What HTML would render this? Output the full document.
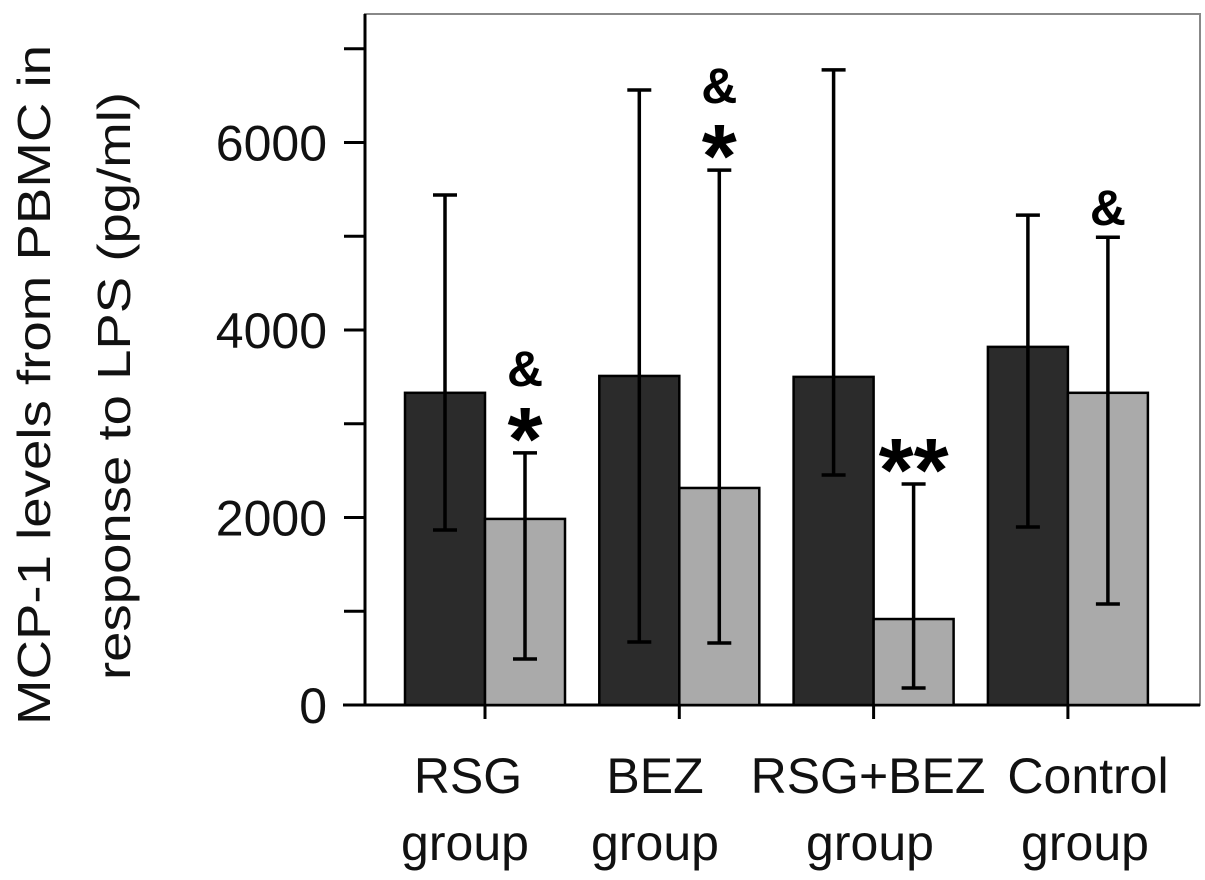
<!DOCTYPE html>
<html><head><meta charset="utf-8"><style>
html,body{margin:0;padding:0;background:#fff;}
svg{display:block;font-family:"Liberation Sans",Arial,sans-serif;}
</style></head><body>
<svg id="chart" width="1205" height="880" viewBox="0 0 1205 880">
<rect x="0" y="0" width="1205" height="880" fill="#fff"/>
<g id="plot"></g>
<text transform="translate(50,385) rotate(-90)" text-anchor="middle" font-size="46" textLength="680" lengthAdjust="spacingAndGlyphs" fill="#111">MCP-1 levels from PBMC in</text>
<text transform="translate(130,386) rotate(-90)" text-anchor="middle" font-size="46" textLength="588" lengthAdjust="spacingAndGlyphs" fill="#111">response to LPS (pg/ml)</text>
</svg>
<script>
const categories = ["RSG", "BEZ", "RSG+BEZ", "Control"];
const darkValues = [3330, 3510, 3500, 3820];
const lightValues = [1985, 2315, 917, 3330];
const darkErrHigh = [5440, 6560, 6775, 5225];
const darkErrLow = [1867, 672, 2453, 1899];
const lightErrHigh = [2690, 5705, 2357, 4990];
const lightErrLow = [491, 661, 181, 1077];
const yTicks = [0, 1000, 2000, 3000, 4000, 5000, 6000, 7000];
const yTickLabels = ["0", "", "2000", "", "4000", "", "6000", ""];
const annotations = [["&", "*"], ["&", "*"], ["**"], ["&"]];
const xLabelLine1 = ["RSG", "BEZ", "RSG+BEZ", "Control"];

const NS = "http://www.w3.org/2000/svg";
const g = document.getElementById("plot");
const x0 = 365, x1 = 1200, yBase = 705, pxPer = 93.75 / 1000;
const y = v => yBase - v * pxPer;
const groupCenter = i => 485 + i * 194.3;
const barW = 80;
function mk(tag, attrs) { const e = document.createElementNS(NS, tag); for (const k in attrs) e.setAttribute(k, attrs[k]); g.appendChild(e); return e; }

let e = mk("rect", {x: x0, y: 14, width: x1 - x0, height: yBase - 14, fill: "none", stroke: "#888", "stroke-width": 2});


e = mk("line", {x1: x0, y1: 14, x2: x0, y2: yBase, stroke: "#000", "stroke-width": 3});


e = mk("line", {x1: 343, y1: yBase, x2: x1, y2: yBase, stroke: "#000", "stroke-width": 3});



yTicks.forEach((t, i) => {
  const tk = mk("line", {x1: 344, y1: y(t), x2: x0, y2: y(t), stroke: "#000", "stroke-width": 3});
  
  
  if (yTickLabels[i]) {
    const tl = mk("text", {x: 327, y: y(t) + 18, "text-anchor": "end", "font-size": 50, fill: "#111"});
    tl.textContent = yTickLabels[i];
    
    
  }
});

categories.forEach((c, i) => {
  const cx = groupCenter(i);
  const xt = mk("line", {x1: cx, y1: yBase, x2: cx, y2: 719, stroke: "#000", "stroke-width": 3});
  
  
  const bd = mk("rect", {x: cx - barW, y: y(darkValues[i]), width: barW, height: yBase - y(darkValues[i]), fill: "#2b2b2b", stroke: "#000", "stroke-width": 2.5});
  
  
  const bl = mk("rect", {x: cx, y: y(lightValues[i]), width: barW, height: yBase - y(lightValues[i]), fill: "#aaaaaa", stroke: "#000", "stroke-width": 2.5});
  
  
  [[cx - barW / 2, darkErrHigh[i], darkErrLow[i], 'dark'], [cx + barW / 2, lightErrHigh[i], lightErrLow[i], 'light']].forEach(([ex, hi, lo, nm]) => {
    const l = mk("line", {x1: ex, y1: y(hi), x2: ex, y2: y(lo), stroke: "#000", "stroke-width": 3.5});
    
    
    [hi, lo].forEach(v => {
      const cp = mk("line", {x1: ex - 12, y1: y(v), x2: ex + 12, y2: y(v), stroke: "#000", "stroke-width": 3.5});
      
      
    });
  });
  const ann = annotations[i];
  const cap = y(lightErrHigh[i]);
  let centerY = cap - 30;
  for (let k = ann.length - 1; k >= 0; k--) {
    const s = ann[k];
    const isStar = s.indexOf("*") >= 0;
    const t = mk("text", {x: cx + barW / 2, y: isStar ? centerY + 47 : centerY + 18, "text-anchor": "middle", "font-size": isStar ? 90 : 50, "font-weight": "bold", fill: "#000"});
    t.textContent = s;
    
    
    centerY -= 55;
  }
  const lx = [468, 655, 868, 1088][i];
  const t1 = mk("text", {x: lx, y: 793, "text-anchor": "middle", "font-size": 50, fill: "#111"});
  t1.textContent = xLabelLine1[i];
  
  
  const t2 = mk("text", {x: [465, 655, 870, 1085][i], y: 860, "text-anchor": "middle", "font-size": 50, fill: "#111"});
  t2.textContent = "group";
  
  
});
</script>
</body></html>
